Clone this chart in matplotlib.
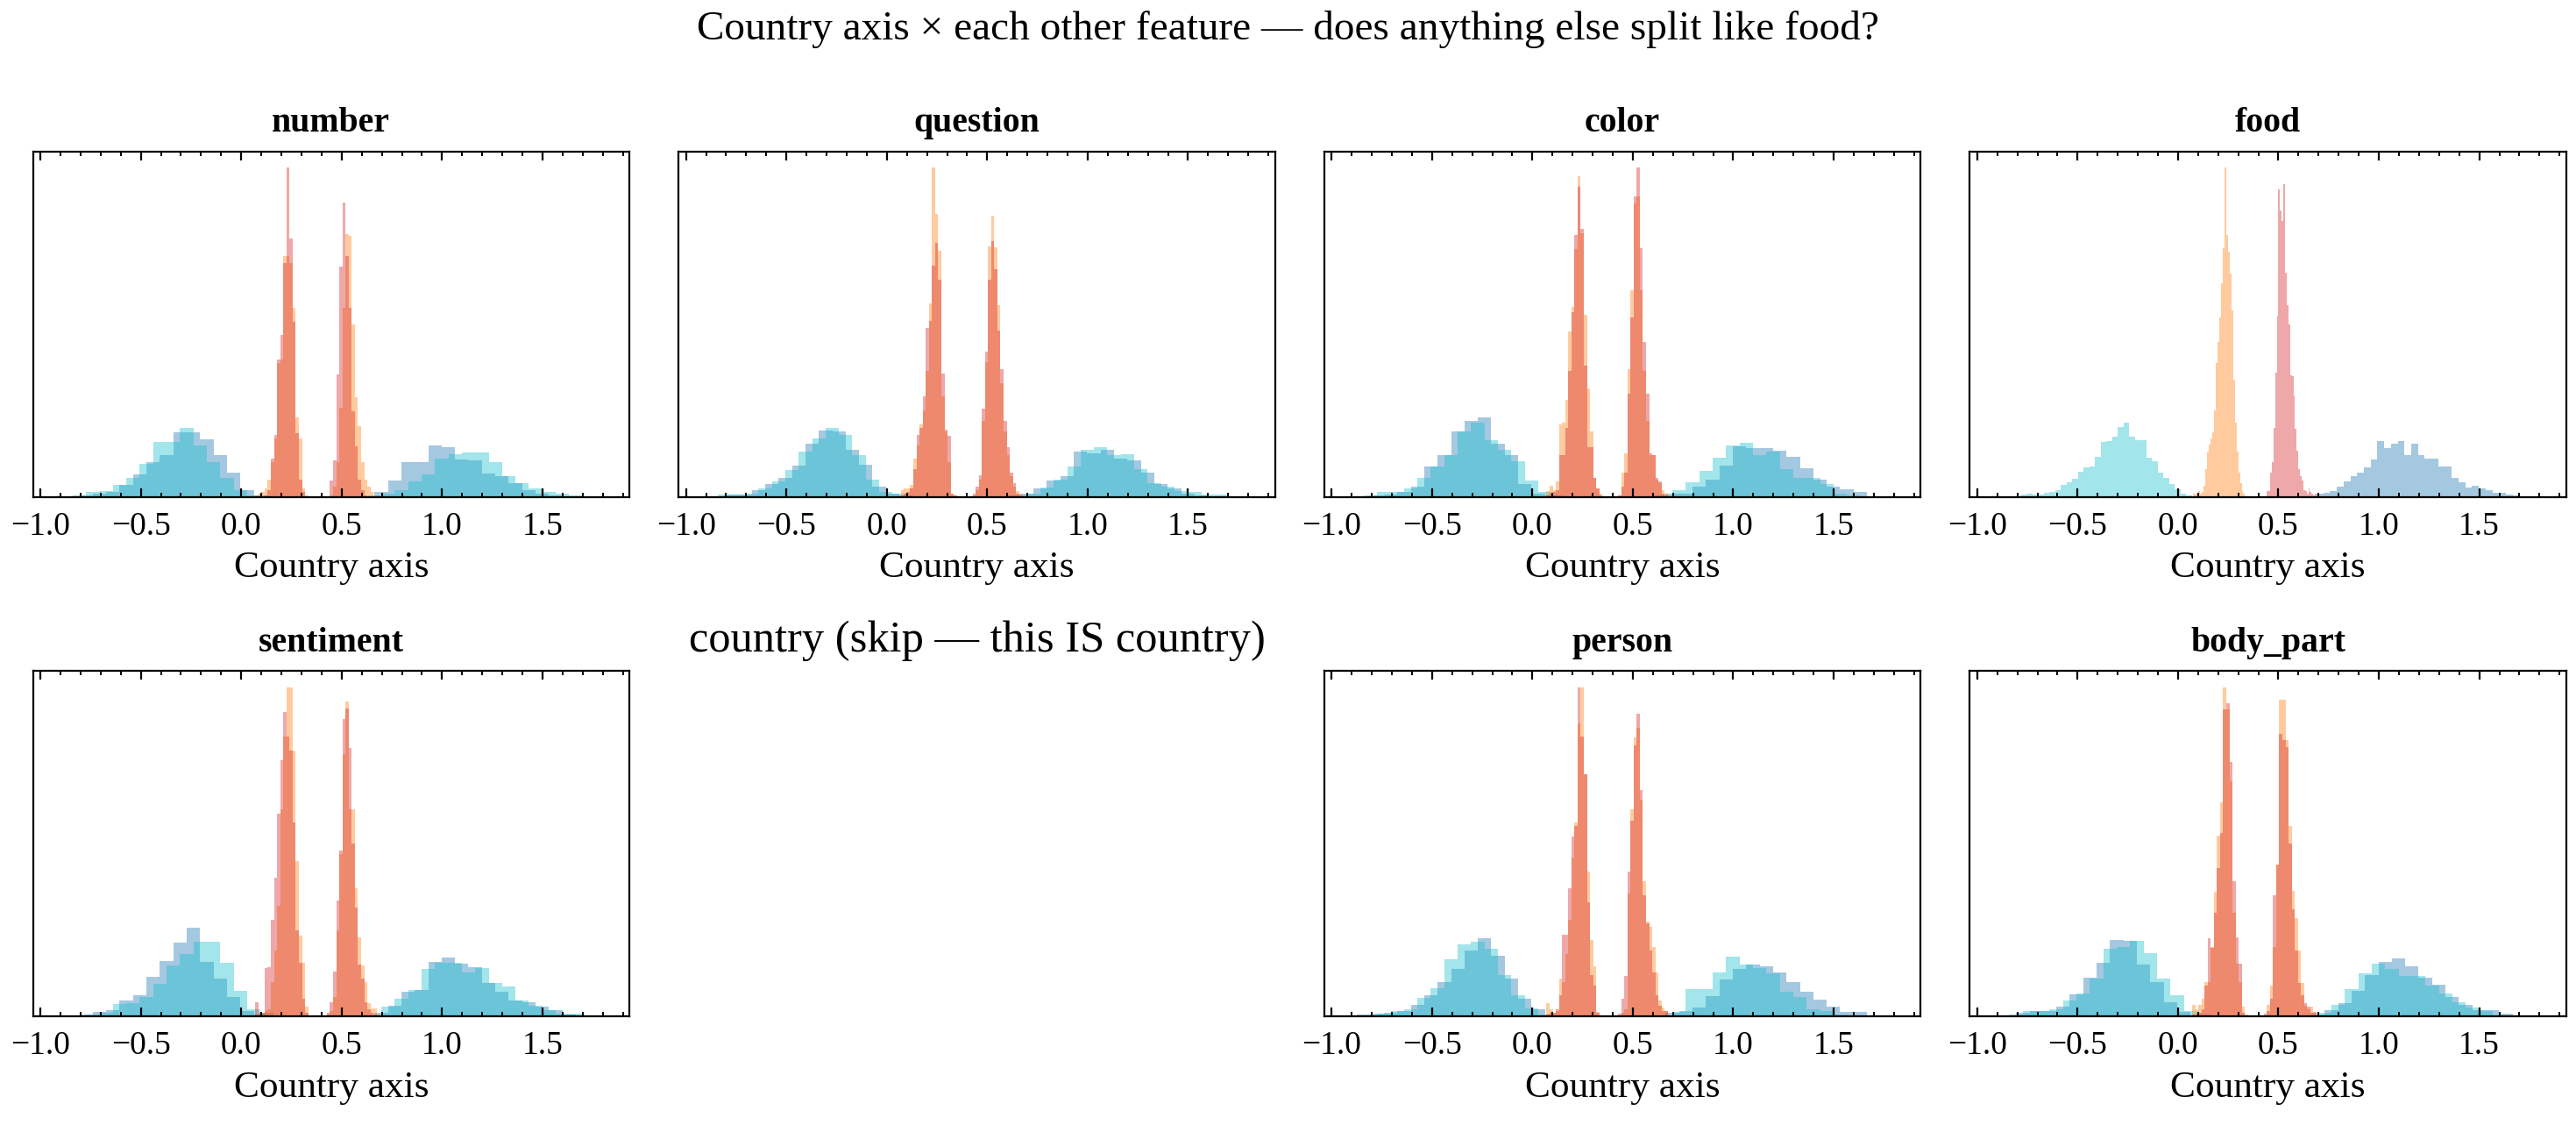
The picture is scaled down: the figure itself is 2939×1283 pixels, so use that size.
import numpy as np
import matplotlib
matplotlib.use("Agg")
import matplotlib.pyplot as plt
from matplotlib.ticker import MultipleLocator

plt.rcParams['font.family'] = 'serif'
plt.rcParams['font.serif'] = ['Liberation Serif', 'DejaVu Serif']

# bin ranges of the country-axis histograms
cyan_range = (-0.84, 1.70)
blue_range = (-0.873, 1.666)
inner_range = (0.07, 0.69)

# bar heights (arbitrary units), one list per colour
number_cyan = [0.3, 1.5, 1.6, 3.5, 5.5, 9.5, 16, 16, 20, 15, 10, 5.5, 2, 0.5, 0, 0, 0, 0, 0, 0, 0, 0,
               0.3, 0.8, 1.8, 4.5, 6.5, 11, 12.5, 13, 13, 10, 6, 4, 2.5, 1.5, 0.8, 0.5]
number_blue = [0, 0.3, 0.8, 1.5, 3.5, 6.5, 10, 12.2, 18.7, 18.7, 16.8, 12, 6.9, 2, 0.5, 0, 0, 0, 0, 0, 0, 0,
               0.2, 1.5, 4.6, 10, 10, 14.9, 14.5, 10.8, 10.5, 6.7, 6, 4, 2, 1, 0.5, 0.2]
number_orange = [0.5, 1, 1.5, 2.5, 5, 10, 17, 39, 40, 70, 70, 68, 55, 23, 17, 2.4, 0.5, 0, 0, 0, 0, 0, 0, 0,
                 0.5, 3, 10, 26, 55, 76.5, 76, 50, 29, 20.6, 10, 5, 3, 1.3, 0.5, 0]
number_red = [0, 0, 0, 0.5, 2, 11, 18, 40, 47, 68, 95.7, 75, 51, 18.5, 5, 1.5, 0, 0, 0, 0, 0, 0, 0, 0,
              4.6, 10.5, 35.7, 67, 85.5, 70, 55, 25, 14.7, 5, 2, 0.5, 0, 0, 0, 0]

question_cyan = [0.6, 0.6, 1, 2.5, 4.5, 7.8, 13, 16.8, 20, 17.9, 12.2, 5, 1.5, 0.8, 0.2, 0, 0, 0, 0, 0, 0, 0,
                 0.3, 0.8, 2.8, 5, 8.7, 13.7, 14.5, 12, 12.4, 8, 4, 3, 1.7, 1.5, 0.6, 0.6]
question_blue = [0, 0.6, 0.6, 2, 3.6, 5.6, 9, 15.5, 19.2, 19, 13.7, 9.4, 3, 0.8, 0.3, 0, 0, 0, 0, 0, 0, 0,
                 0.3, 1, 2.4, 4.8, 6, 13, 12.5, 13.7, 11, 10.5, 7, 3.6, 2.5, 0.8, 0.3, 0]
question_orange = [2, 2.5, 2.5, 3.4, 11, 15, 21, 25, 36.5, 56, 95.4, 82, 71.4, 29, 19, 10, 1, 0.3, 0, 0, 0, 0, 0,
                   0.5, 2, 5, 22, 39, 72.5, 81.5, 72.4, 55.5, 33, 19, 12, 6, 3, 1.7, 1, 0.3]
question_red = [0.5, 1, 1.5, 2.5, 8, 18, 20, 29, 49, 51, 67, 73.5, 63, 35.7, 19.5, 17.6, 1, 0.3, 0, 0, 0, 0, 0,
                1, 3, 6.3, 25.6, 42, 63, 74, 66, 48.3, 37, 22, 14.5, 7, 4, 1, 0.5, 0]

color_cyan = [0.4, 1.3, 1.4, 2.5, 5.6, 8.7, 12, 19, 21.6, 16.4, 13.7, 10.2, 4.8, 1.4, 0.3, 0, 0, 0, 0, 0, 0, 0,
              0.4, 1.8, 4.2, 7.6, 11.3, 15, 15.7, 12, 13, 8, 5.5, 5.5, 3.8, 1, 0.5, 0.2]
color_blue = [0, 0.3, 0.6, 1.3, 3, 8.7, 12.2, 19, 22, 23, 15.3, 12, 3.6, 1, 0.3, 0, 0, 0, 0, 0, 0, 0,
              0.3, 0.8, 0.8, 3, 5, 9, 14.7, 14, 14.1, 13.4, 11.5, 8.2, 5, 3, 2.1, 1.3]
color_orange = [1.7, 3.1, 2, 4.5, 21, 21.4, 28, 48, 55, 71.8, 93, 76.5, 52.8, 31.3, 19, 5.5, 2.5, 0.8, 0, 0, 0, 0, 0,
                0.5, 7, 12.6, 37, 60, 85, 87, 60, 36.5, 22, 12, 12, 5, 4, 2, 1, 0]
color_red = [0.5, 1, 1.5, 2, 12, 12, 20, 36.5, 53.5, 76, 90, 77.7, 38, 14.5, 14.5, 5.5, 2.5, 0.5, 0, 0, 0, 0, 0,
             0.5, 3, 7, 30, 52, 87, 95.4, 72, 45, 29.8, 12.6, 12.2, 5.5, 4.5, 1, 0.5, 0]

person_cyan = [0.3, 0.7, 1.5, 2, 5.4, 8.1, 16.6, 20.8, 21.6, 19.5, 12, 6, 2.3, 0.5, 0, 0, 0, 0, 0, 0, 0, 0,
               0.3, 1.2, 7.8, 8, 12.6, 17.2, 15, 14, 12.5, 7.1, 5.5, 2, 1.5, 0.5, 0.3, 0]
person_blue = [0.4, 0.7, 1, 1.5, 3.4, 6, 9.9, 13.8, 19, 22.5, 17.4, 11, 5, 2, 0.3, 0, 0, 0, 0, 0, 0, 0,
               0.3, 1, 1.5, 2.5, 5.9, 10.7, 13.7, 15.1, 14.5, 12.8, 9.9, 7.1, 4.9, 2.9, 1.3, 1.3]
person_orange = [3.8, 2.1, 1, 1.5, 10.9, 10, 18, 28, 46, 56, 84.7, 95.2, 70, 41.8, 22, 14.4, 1.3, 0.3, 0, 0, 0, 0, 0,
                 0.3, 1, 2, 35.5, 60, 80.6, 83.4, 62.6, 39, 27.4, 26, 20, 12.6, 4.6, 2.5, 1.5, 0]
person_red = [0.5, 1, 1, 2, 6, 23.5, 23.5, 37, 52, 55, 95.2, 81, 70, 33, 12, 8.8, 1, 0, 0, 0, 0, 0, 0,
              0.7, 5, 11.7, 42, 56.5, 78.5, 87.6, 65.6, 35, 27, 19, 12.6, 6, 3, 1.5, 1.5, 0]

body_cyan = [0.6, 1.5, 1.5, 2, 4.6, 6.5, 11, 19.5, 20, 21.8, 18.2, 10.9, 6, 1.5, 0.5, 0, 0, 0, 0, 0, 0, 0,
             0.3, 1, 3.2, 7.8, 12.5, 15.3, 13.6, 11.8, 11.7, 9, 6.7, 4, 2.5, 1.5, 0.3, 0]
body_blue = [0.3, 1, 1.5, 1.5, 2.8, 6.3, 11.3, 15.5, 22.2, 21.8, 14.9, 10, 4, 1.2, 0.3, 0, 0, 0, 0, 0, 0, 0,
             0.2, 0.5, 1.7, 3.8, 7.5, 12, 15.8, 16.8, 14.5, 11.3, 9.2, 5.5, 3.4, 1.8, 1.7, 0.7]
body_orange = [3.2, 2.1, 3.4, 5.2, 10, 10, 20, 36, 52.4, 62, 95.2, 88.7, 68, 30, 15.3, 10, 2.7, 0.5, 0, 0, 0, 0, 0,
               0.3, 3.2, 9, 20, 44, 91.6, 91.6, 80, 55, 36.2, 28.5, 19, 9.7, 3, 2, 2.8, 1]
body_red = [0.5, 0.5, 1, 2, 8.8, 22.5, 19.7, 30, 43, 53, 88.7, 90.6, 73.7, 39, 22.8, 15.3, 1, 0.3, 0, 0, 0, 0, 0,
            0.7, 1.5, 5, 35, 44, 81.8, 80, 78, 50, 31, 19, 9.7, 6, 3.8, 2.7, 1, 1.3]

sentiment_cyan = [0.2, 0.5, 1, 3.6, 3.9, 5.5, 9.4, 14.7, 18, 21.7, 21.7, 15.5, 7.4, 2, 1, 0, 0, 0, 0, 0, 0, 0,
                  0.3, 2.8, 5, 7.7, 13.6, 15.5, 15.5, 12.6, 14, 9.6, 8.6, 4.7, 3, 1.9, 0.9, 0.9]
sentiment_blue = [0.3, 0.5, 1.4, 1.9, 4.5, 6.1, 11.5, 16.1, 21.3, 25.6, 15.7, 11, 5.5, 1.5, 0.5, 0, 0, 0, 0, 0, 0, 0,
                  0.3, 1, 3.1, 7.2, 7.7, 15.7, 17, 15.2, 14.3, 9.6, 7, 4.7, 4, 2.8, 1.9, 0.5]
sentiment_orange = [0.5, 0.5, 0.8, 1.5, 2, 10, 19, 32, 60, 81, 95.2, 95.2, 77, 45, 23.4, 15.5, 2.8, 0.3, 0, 0, 0, 0, 0,
                    0.5, 1.5, 5.5, 25, 47, 76, 91, 60, 60, 37, 22.8, 14.7, 9.8, 3.7, 2.3, 2.3, 0.5]
sentiment_red = [4, 1, 1, 14, 14.2, 27.8, 40, 58.5, 74, 88, 81, 77, 56, 25, 15.5, 5, 1, 0, 0, 0, 0, 0, 0,
                 1, 4, 13, 33.4, 48, 86, 89, 77.7, 50, 31.4, 15, 11, 4, 2, 1, 0.5, 0]

# food: each colour sits in its own cluster
food_cyan_range = (-0.783, 0.069)
food_orange_range = (0.075, 0.334)
food_red_range = (0.442, 0.690)
food_blue_range = (0.690, 1.700)
food_cyan = [0.6, 0.8, 0.6, 0.6, 1.1, 1.3, 1.9, 3.4, 4.1, 5.1, 7.2, 8.4, 8.9, 11.5, 16, 16.2, 17.5, 20.3, 21.6, 17.5,
             16.5, 16.3, 11.2, 10.2, 6.9, 5.6, 3.6, 2.1, 0.8, 0.4]
food_orange = [0.8, 0.8, 1.0, 1.7, 0.8, 1.5, 3.1, 8, 13, 15.1, 16.8, 18.7, 25, 38.7, 45, 52, 61.8, 72, 95.4, 76,
               71, 64.7, 54, 34, 21.4, 13, 7.1, 4, 1.7, 0.8]
food_red = [1.7, 1.7, 7, 10, 20, 36, 52.5, 89, 83, 80, 90.6, 65, 55.5, 50, 35.3, 35, 29, 19.7, 13.4, 8,
            6, 4.6, 2, 1.7, 0.8, 2.5, 1.5, 0.8, 0.5, 0.8]
food_blue = [0.8, 1.1, 1.6, 3, 4.5, 6.1, 7.1, 8.4, 10.9, 16.1, 14, 15.4, 16.1, 12.2, 15.3, 12.2, 11.1, 11.1, 8.8, 8.8,
             5.6, 4.2, 2.7, 3.1, 2.5, 1.9, 1.1, 1.1, 0.7, 0.4]

C_CYAN, C_BLUE, C_ORANGE, C_RED = '#17becf', '#1f77b4', '#ff7f0e', '#d62728'

panels = {
    'number': [(number_blue, blue_range, C_BLUE), (number_cyan, cyan_range, C_CYAN),
               (number_orange, inner_range, C_ORANGE), (number_red, inner_range, C_RED)],
    'question': [(question_blue, blue_range, C_BLUE), (question_cyan, cyan_range, C_CYAN),
                 (question_orange, inner_range, C_ORANGE), (question_red, inner_range, C_RED)],
    'color': [(color_blue, blue_range, C_BLUE), (color_cyan, cyan_range, C_CYAN),
              (color_orange, inner_range, C_ORANGE), (color_red, inner_range, C_RED)],
    'food': [(food_blue, food_blue_range, C_BLUE), (food_cyan, food_cyan_range, C_CYAN),
             (food_orange, food_orange_range, C_ORANGE), (food_red, food_red_range, C_RED)],
    'sentiment': [(sentiment_blue, blue_range, C_BLUE), (sentiment_cyan, cyan_range, C_CYAN),
                  (sentiment_orange, inner_range, C_ORANGE), (sentiment_red, inner_range, C_RED)],
    'country': None,
    'person': [(person_blue, blue_range, C_BLUE), (person_cyan, cyan_range, C_CYAN),
               (person_orange, inner_range, C_ORANGE), (person_red, inner_range, C_RED)],
    'body_part': [(body_blue, blue_range, C_BLUE), (body_cyan, cyan_range, C_CYAN),
                  (body_orange, inner_range, C_ORANGE), (body_red, inner_range, C_RED)],
}

fig, axes = plt.subplots(2, 4, figsize=(14.695, 6.415), dpi=200)
fig.subplots_adjust(left=0.0128, right=0.9962, top=0.8655, bottom=0.0966, wspace=0.0824, hspace=0.504)

for ax, (name, hists) in zip(axes.flat, panels.items()):
    if hists is None:
        ax.axis('off')
        ax.set_title('%s (skip \u2014 this IS country)' % name, fontsize=18.2, pad=8)
        continue
    for counts, (lo, hi), col in hists:
        edges = np.linspace(lo, hi, len(counts) + 1)
        mids = 0.5 * (edges[:-1] + edges[1:])
        ax.hist(mids, bins=edges, weights=counts, histtype='stepfilled', color=col, alpha=0.4, linewidth=0)
    ax.set_xlim(-1.037, 1.933)
    ax.set_yticks([])
    ax.xaxis.set_major_locator(MultipleLocator(0.5))
    ax.xaxis.set_minor_locator(MultipleLocator(0.1))
    ax.tick_params(axis='x', which='both', direction='in', top=True, bottom=True, labelsize=13.5, pad=6)
    ax.tick_params(axis='x', which='major', length=3.6, width=0.8)
    ax.tick_params(axis='x', which='minor', length=1.7, width=0.7)
    for s in ax.spines.values():
        s.set_linewidth(0.8)
    ax.set_xlabel('Country axis', fontsize=15.6, labelpad=4)
    ax.set_title(name, fontsize=14.3, fontweight='bold', pad=8)

fig.suptitle('Country axis \u00d7 each other feature \u2014 does anything else split like food?', fontsize=17, y=0.9737, va='center')
fig.savefig('out.png', dpi=200)
